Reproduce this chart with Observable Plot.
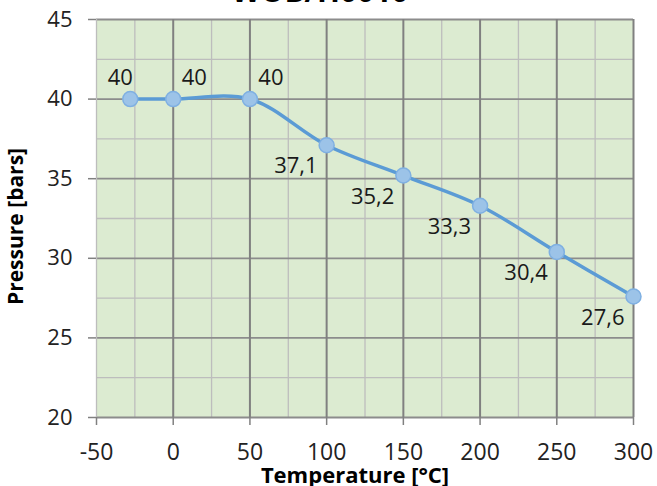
<!DOCTYPE html>
<html>
<head>
<meta charset="utf-8">
<script src="https://cdn.jsdelivr.net/npm/d3@7"></script>
<script src="https://cdn.jsdelivr.net/npm/@observablehq/plot@0.6"></script>
<style>
  html, body { margin: 0; padding: 0; background: #fff; overflow: hidden; }
  #wrap { position: relative; width: 657px; height: 486px; }
  #title { position: absolute; left: 0; width: 640px; top: -30px; text-align: center;
           font: bold 30px "Open Sans", sans-serif; color: #000; }
  #chart { position: absolute; left: 0; top: 0; }
</style>
</head>
<body>
<div id="wrap"><div id="chart"></div><div id="title">WOB/H0010</div></div>
<script>
const temperature = [-28, 0, 50, 100, 150, 200, 250, 300];
const pressure = [40, 40, 40, 37.1, 35.2, 33.3, 30.4, 27.6];
const xTicks = [-50, 0, 50, 100, 150, 200, 250, 300];
const xMinor = [-25, 25, 75, 125, 175, 225, 275];
const yTicks = [20, 25, 30, 35, 40, 45];
const yMinor = [22.5, 27.5, 32.5, 37.5, 42.5];

const data = temperature.map((t, i) => ({t, p: pressure[i]}));
const above = data.filter(d => d.p >= 40);
const aboveFirst = above.slice(0, 1);
const aboveRest = above.slice(1);
const below = data.filter(d => d.p < 40);
const fmt = v => String(v).replace(".", ",");

const font = "'Open Sans', sans-serif";
const chart = Plot.plot({
  width: 657,
  height: 486,
  marginLeft: 96,
  marginRight: 24,
  marginTop: 19,
  marginBottom: 69,
  style: {fontFamily: font, fontSize: "22px", color: "#222", background: "transparent"},
  x: {domain: [-50, 300]},
  y: {domain: [20, 45]},
  marks: [
    Plot.frame({fill: "#dcebd1", stroke: null}),
    Plot.ruleX(xMinor, {stroke: "#bdbdbd", strokeWidth: 1.3}),
    Plot.ruleY(yMinor, {stroke: "#bdbdbd", strokeWidth: 1.3}),
    Plot.ruleY(yTicks, {stroke: "#8c8c8c", strokeWidth: 1.8}),
    Plot.ruleX(xTicks.filter(v => v > -50), {stroke: "#808080", strokeWidth: 2}),
    Plot.ruleX([-50], {stroke: "#bdbdbd", strokeWidth: 1.3}),
    Plot.axisX({ticks: xTicks, tickFormat: d => String(d), tickSize: 8, tickPadding: 18, stroke: "#808080", strokeWidth: 1.5,
      fontSize: 23, label: "Temperature [°C]", labelAnchor: "center", labelOffset: 65, labelArrow: "none"}),
    Plot.axisY({ticks: yTicks, tickFormat: d => String(d), tickSize: 8, tickPadding: 16, stroke: "#808080", strokeWidth: 1.5,
      fontSize: 22, label: "Pressure [bars]", labelAnchor: "center", labelOffset: 88, labelArrow: "none"}),
    Plot.line(data, {x: "t", y: "p", curve: "catmull-rom", stroke: "#5b9bd5", strokeWidth: 3.5}),
    Plot.dot(data, {x: "t", y: "p", r: 7.5, fill: "#9cc3e8", stroke: "#7fb0e2", strokeWidth: 1.5}),
    Plot.text(aboveFirst, {x: "t", y: "p", text: d => fmt(d.p), dx: -10, dy: -21, fontSize: 22, fill: "#1a1a1a"}),
    Plot.text(aboveRest, {x: "t", y: "p", text: d => fmt(d.p), dx: 21, dy: -21, fontSize: 22, fill: "#1a1a1a"}),
    Plot.text(below, {x: "t", y: "p", text: d => fmt(d.p), textAnchor: "end", dx: -9, dy: 21, fontSize: 22, fill: "#1a1a1a"})
  ]
});
document.getElementById("chart").appendChild(chart);
// bold axis titles
chart.querySelectorAll("g[aria-label='x-axis label'] text").forEach(t => {
  t.style.fontWeight = "bold"; t.style.fontSize = "22px"; t.style.fill = "#000";
  t.setAttribute("dx", "-10");
});
chart.querySelectorAll("g[aria-label='y-axis label'] text").forEach(t => {
  t.style.fontWeight = "bold"; t.style.fontSize = "21px"; t.style.fill = "#000";
  t.setAttribute("dx", "-8");
});
</script>
</body>
</html>
